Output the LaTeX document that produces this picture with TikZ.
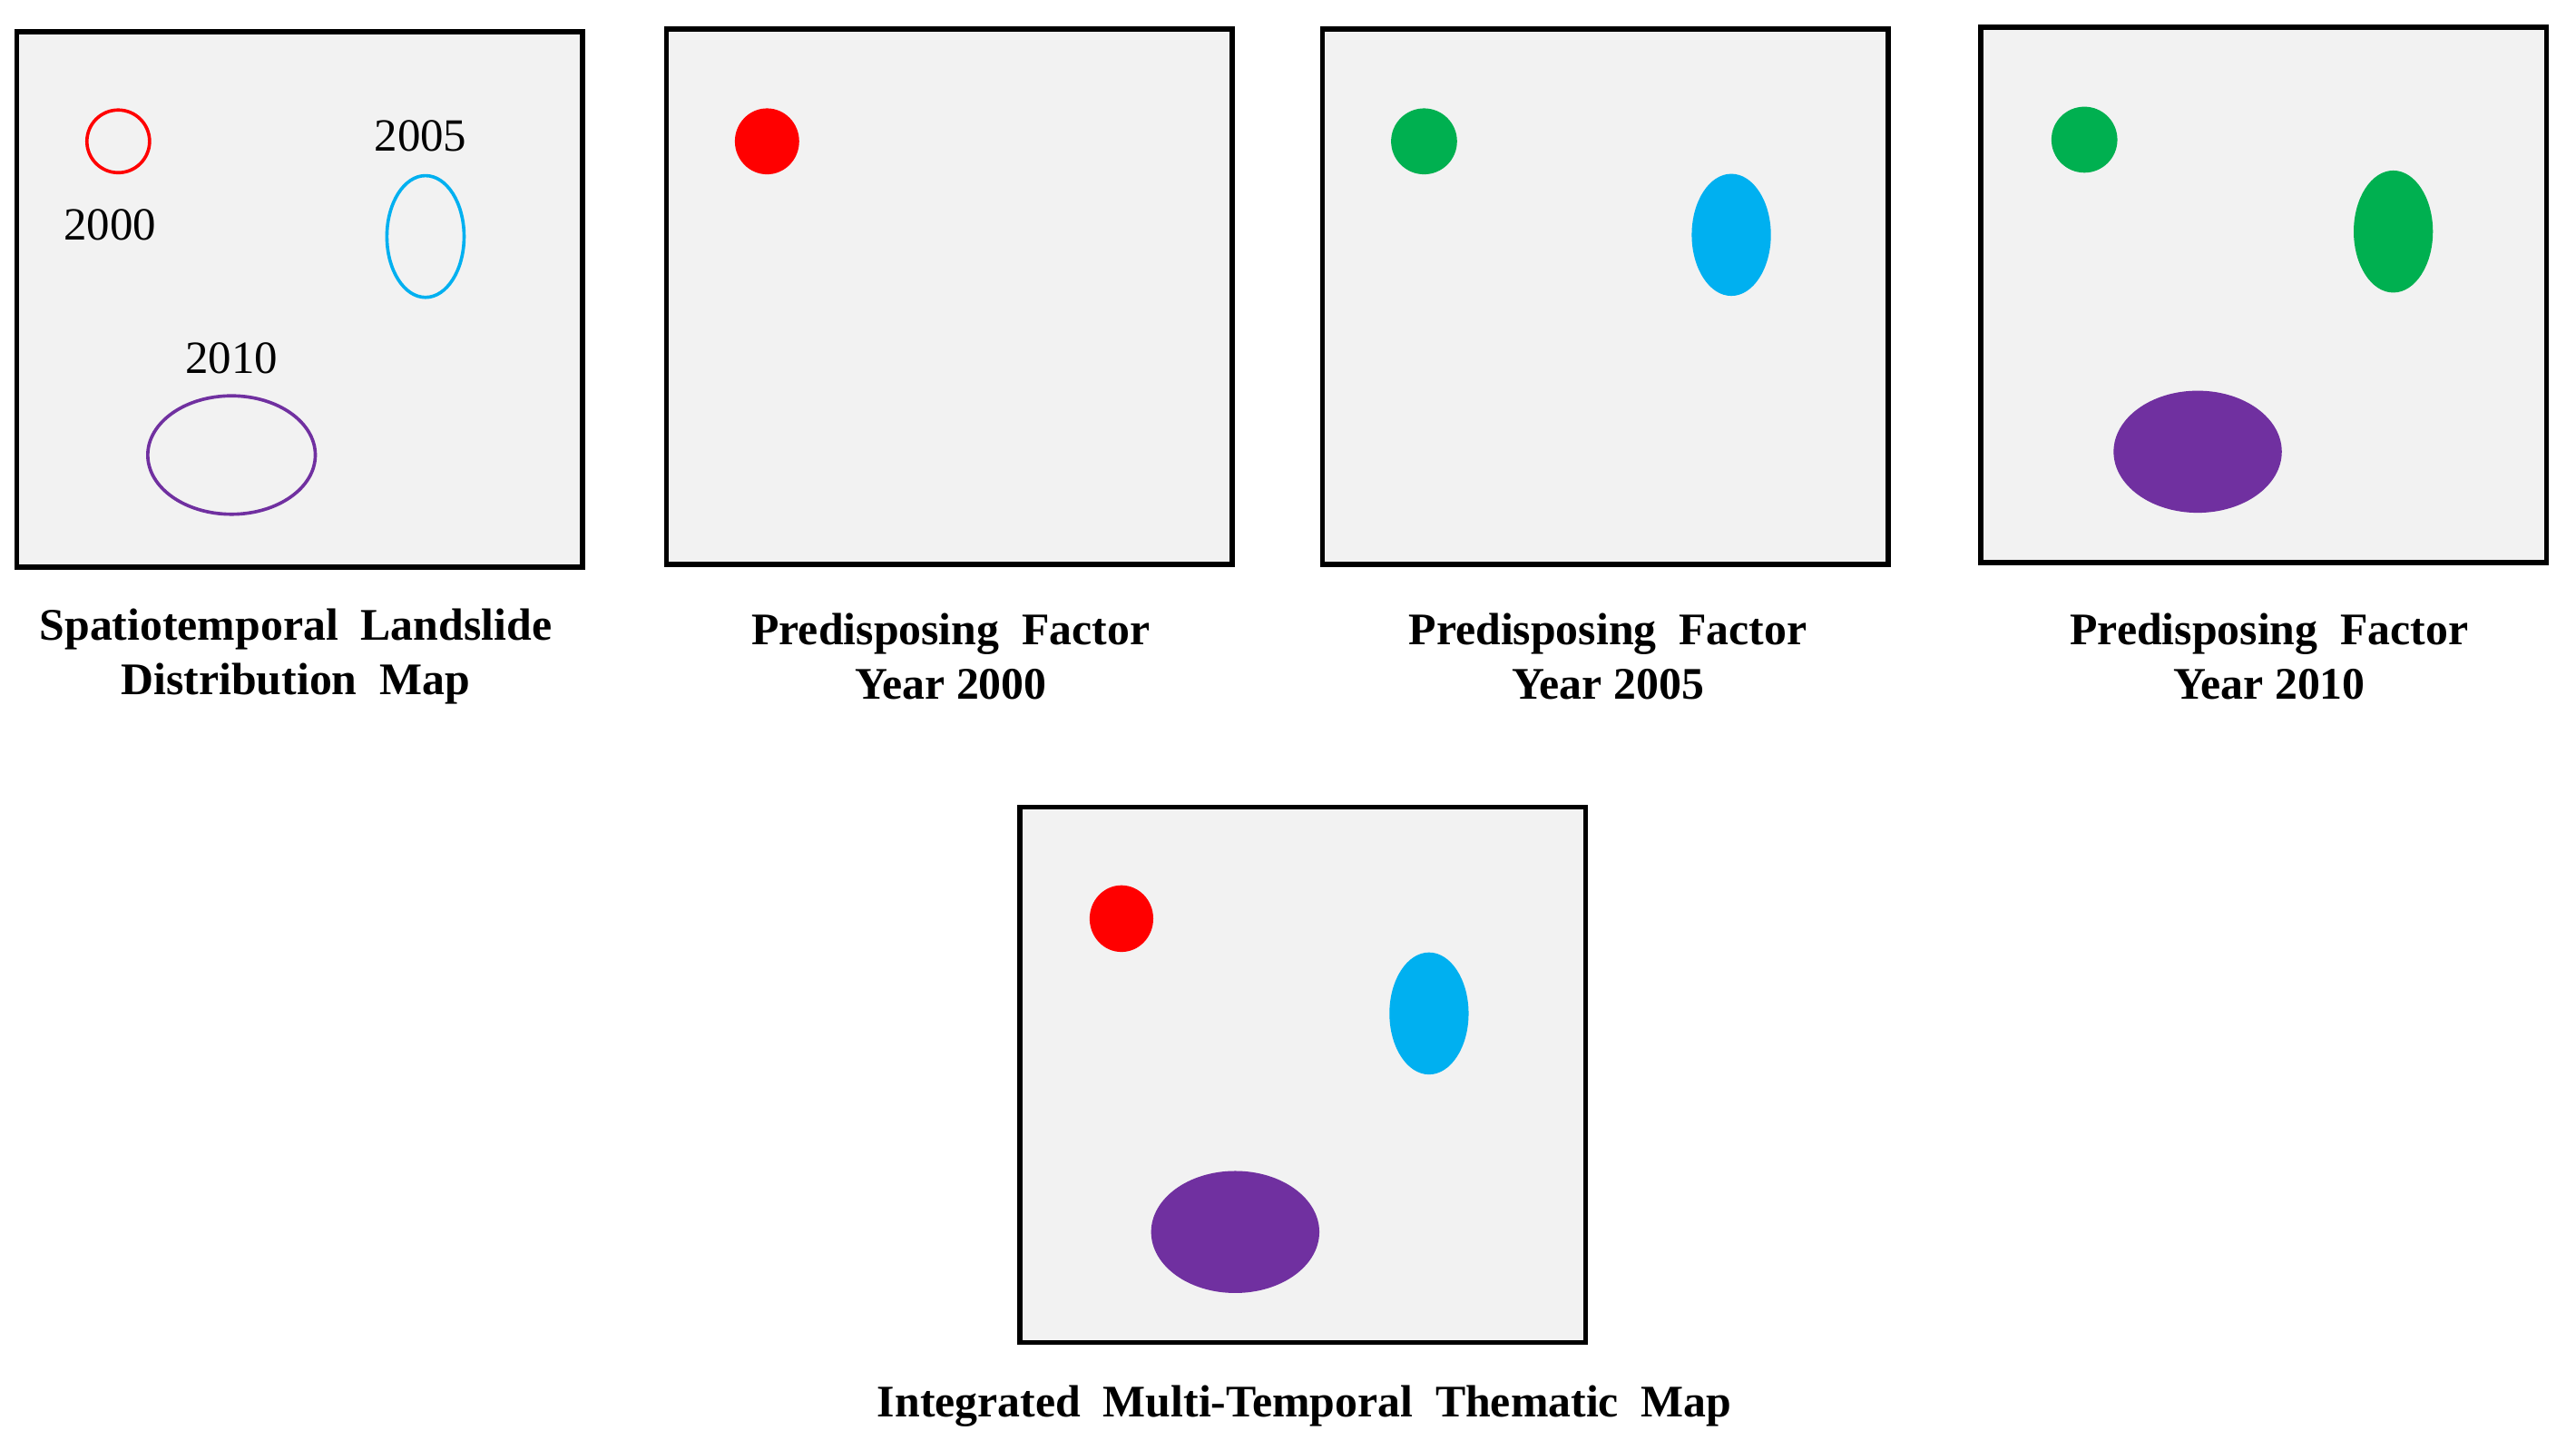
\documentclass[tikz,border=0pt]{standalone}
\usepackage{fontspec}
\setmainfont{Liberation Serif}
\definecolor{mapgray}{HTML}{F2F2F2}
\definecolor{slred}{HTML}{FF0000}
\definecolor{slcyan}{HTML}{00B0F0}
\definecolor{slgreen}{HTML}{00B050}
\definecolor{slpurple}{HTML}{7030A0}
\tikzset{
	mapbox/.style={fill=mapgray, draw=black, line width=3pt},
	outline/.style={line width=2pt},
	caption/.style={font=\bfseries\fontsize{27.4}{33}\selectfont, align=center, inner sep=0pt},
	yearlabel/.style={font=\fontsize{28}{33}\selectfont, inner sep=0pt}
}
\begin{document}
\begin{tikzpicture}[x=1pt,y=-1pt]
	\useasboundingbox (0,0) rectangle (1562,879);
	\coordinate (b1) at (10.1,19.3);
	\coordinate (b2) at (404.1,17.6);
	\coordinate (b3) at (802,17.6);
	\coordinate (b4) at (1201,16.5);
	\coordinate (b5) at (618.3,489.3);

	\foreach \i in {1,...,5}{
	\draw[mapbox] (b\i) rectangle ++(343,324.6);
	}

	% landslide inventory
	\draw[outline, slred] (71.7,85.7) circle [radius=19];
	\draw[outline, slcyan] (258,143.4) ellipse [x radius=23.4, y radius=36.9];
	\draw[outline, slpurple] (140.4,275.9) ellipse [x radius=50.8, y radius=35.9];
	\node[yearlabel] (y2000) at (66.7,136.5) {2000};
	\node[yearlabel] (y2005) at (255,82.7) {2005};
	\node[yearlabel] (y2010) at (140.4,217.1) {2010};

	% factor maps
	\fill[slred] (465.1,85.7) ellipse [x radius=19.5, y radius=20];
	\fill[slgreen] (863.5,85.7) circle [radius=20];
	\fill[slcyan] (1049.8,142.4) ellipse [x radius=24, y radius=37];
	\fill[slgreen] (1263.9,84.7) circle [radius=20];
	\fill[slgreen] (1451.2,140.4) ellipse [x radius=24, y radius=37];
	\fill[slpurple] (1332.6,273.9) ellipse [x radius=51, y radius=37];

	% integrated map
	\fill[slred] (680,557) ellipse [x radius=19.3, y radius=20.2];
	\fill[slcyan] (866.5,614.5) ellipse [x radius=24, y radius=37];
	\fill[slpurple] (749,747) ellipse [x radius=51, y radius=37];

	\node[caption] (cap1) at (179.3,398) {Spatiotemporal\ \ Landslide\\Distribution\ \ Map};
	\node[caption] (cap2) at (576.5,398) {Predisposing\ \ Factor\\Year 2000};
	\node[caption] (cap3) at (975,398) {Predisposing\ \ Factor\\Year 2005};
	\node[caption] (cap4) at (1376,398) {Predisposing\ \ Factor\\Year 2010};
	\node[caption] (cap5) at (791,852.5) {Integrated\ \ Multi-Temporal\ \ Thematic\ \ Map};
\end{tikzpicture}
\end{document}
